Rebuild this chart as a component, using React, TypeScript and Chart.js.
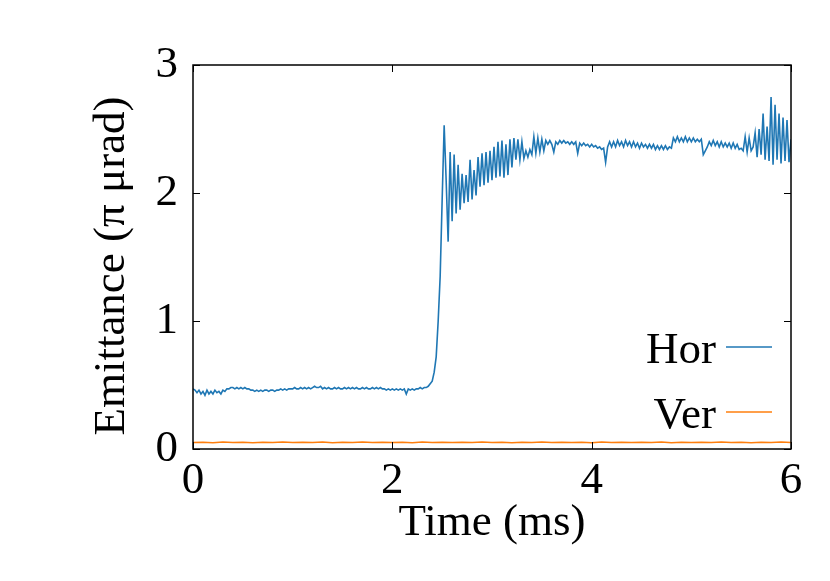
import { useEffect, useRef } from "react";
import { Chart, registerables } from "chart.js";

Chart.register(...registerables);

// ---- data ----
const xTickValues = [0, 2, 4, 6];
const yTickValues = [0, 1, 2, 3];
const xTitle = "Time (ms)";
const yTitle = "Emittance (\u03C0 \u03BCrad)";
const seriesNames = ["Hor", "Ver"];
const seriesColors = ["#1f77b4", "#ff7f0e"];

// Hor: sampled every 0.02 ms from 0 to 6 ms
const horStartMs = 0;
const horStepMs = 0.02;
const horValues = [
  0.47, 0.46, 0.44, 0.46, 0.43, 0.45, 0.42, 0.46, 0.43, 0.45,
  0.43, 0.46, 0.44, 0.45, 0.43, 0.46, 0.45, 0.47, 0.47, 0.48,
  0.48, 0.47, 0.48, 0.47, 0.48, 0.47, 0.48, 0.47, 0.47, 0.46,
  0.46, 0.45, 0.46, 0.45, 0.46, 0.45, 0.46, 0.46, 0.45, 0.46,
  0.46, 0.45, 0.46, 0.46, 0.47, 0.46, 0.47, 0.46, 0.47, 0.47,
  0.47, 0.48, 0.47, 0.47, 0.48, 0.47, 0.48, 0.47, 0.48, 0.47,
  0.48, 0.49, 0.48, 0.48, 0.49, 0.47, 0.48, 0.47, 0.48, 0.47,
  0.47, 0.48, 0.47, 0.48, 0.47, 0.47, 0.48, 0.47, 0.48, 0.47,
  0.48, 0.47, 0.48, 0.47, 0.47, 0.48, 0.47, 0.48, 0.47, 0.47,
  0.48, 0.47, 0.48, 0.47, 0.48, 0.47, 0.47, 0.46, 0.47, 0.46,
  0.47, 0.46, 0.47, 0.46, 0.47, 0.46, 0.47, 0.43, 0.47, 0.46,
  0.47, 0.46, 0.47, 0.47, 0.48, 0.47, 0.48, 0.48, 0.49, 0.51,
  0.53, 0.60, 0.72, 1.00, 1.35, 1.95, 2.53, 2.10, 1.62, 2.32,
  1.78, 2.30, 1.84, 2.22, 1.87, 2.15, 1.92, 2.14, 1.93, 2.26,
  1.95, 2.18, 1.98, 2.28, 2.05, 2.31, 2.06, 2.32, 2.08, 2.33,
  2.10, 2.36, 2.12, 2.40, 2.13, 2.41, 2.12, 2.38, 2.14, 2.42,
  2.20, 2.43, 2.26, 2.42, 2.26, 2.40, 2.27, 2.33, 2.28, 2.34,
  2.30, 2.44, 2.31, 2.43, 2.32, 2.42, 2.33, 2.41, 2.38, 2.41,
  2.38, 2.32, 2.40, 2.38, 2.41, 2.39, 2.41, 2.39, 2.40, 2.38,
  2.40, 2.38, 2.40, 2.31, 2.39, 2.37, 2.39, 2.37, 2.38, 2.36,
  2.38, 2.36, 2.37, 2.35, 2.36, 2.34, 2.35, 2.24, 2.36, 2.40,
  2.36, 2.40, 2.36, 2.41, 2.37, 2.40, 2.36, 2.41, 2.37, 2.40,
  2.36, 2.40, 2.36, 2.39, 2.35, 2.39, 2.36, 2.38, 2.35, 2.38,
  2.35, 2.38, 2.34, 2.37, 2.34, 2.37, 2.34, 2.37, 2.34, 2.36,
  2.35, 2.43, 2.40, 2.44, 2.40, 2.43, 2.40, 2.44, 2.40, 2.43,
  2.40, 2.43, 2.40, 2.42, 2.40, 2.42, 2.30, 2.33, 2.36, 2.40,
  2.37, 2.41, 2.37, 2.40, 2.36, 2.40, 2.36, 2.39, 2.36, 2.39,
  2.35, 2.39, 2.35, 2.38, 2.34, 2.35, 2.33, 2.44, 2.32, 2.43,
  2.33, 2.36, 2.47, 2.28, 2.50, 2.30, 2.62, 2.26, 2.52, 2.25,
  2.75, 2.22, 2.69, 2.26, 2.62, 2.23, 2.59, 2.25, 2.57, 2.24,
  2.42,
];

// Ver: sampled every 0.1 ms from 0 to 6 ms
const verStartMs = 0;
const verStepMs = 0.1;
const verValues = [
  0.050, 0.053, 0.049, 0.054, 0.050, 0.052, 0.049, 0.053, 0.050, 0.054,
  0.051, 0.053, 0.050, 0.054, 0.049, 0.052, 0.050, 0.054, 0.051, 0.053,
  0.050, 0.052, 0.049, 0.054, 0.050, 0.053, 0.051, 0.052, 0.050, 0.054,
  0.050, 0.053, 0.049, 0.052, 0.051, 0.054, 0.050, 0.053, 0.050, 0.052,
  0.049, 0.054, 0.050, 0.053, 0.051, 0.052, 0.050, 0.054, 0.049, 0.053,
  0.050, 0.052, 0.051, 0.054, 0.050, 0.053, 0.049, 0.052, 0.050, 0.054,
  0.051,
];

const FONT_FAMILY = '"Liberation Serif", "Times New Roman", serif';
const FONT_SIZE = 45;

function toPoints(start: number, step: number, values: number[]) {
  return values.map((v, i) => ({ x: +(start + i * step).toFixed(3), y: v }));
}

const framePlugin = {
  id: "gnuplotFrame",
  afterDatasetsDraw(chart: any) {
    const { ctx, chartArea } = chart;
    const xs = chart.scales.x;
    const ys = chart.scales.y;
    const { left, right, top, bottom } = chartArea;
    ctx.save();
    // frame
    ctx.strokeStyle = "#000";
    ctx.lineWidth = 1.5;
    ctx.strokeRect(left, top, right - left, bottom - top);
    // inward ticks (mirrored)
    const tl = 7;
    ctx.lineWidth = 1;
    ctx.beginPath();
    xTickValues.forEach((v) => {
      const px = Math.round(xs.getPixelForValue(v)) + 0.5;
      ctx.moveTo(px, bottom);
      ctx.lineTo(px, bottom - tl);
      ctx.moveTo(px, top);
      ctx.lineTo(px, top + tl);
    });
    yTickValues.forEach((v) => {
      const py = Math.round(ys.getPixelForValue(v)) + 0.5;
      ctx.moveTo(left, py);
      ctx.lineTo(left + tl, py);
      ctx.moveTo(right, py);
      ctx.lineTo(right - tl, py);
    });
    ctx.stroke();

    // titles
    ctx.fillStyle = "#000";
    ctx.font = `${FONT_SIZE}px ${FONT_FAMILY}`;
    ctx.textAlign = "center";
    ctx.textBaseline = "alphabetic";
    ctx.fillText(xTitle, (left + right) / 2, bottom + 86);
    ctx.save();
    ctx.translate(left - 69, (top + bottom) / 2 + 9);
    ctx.rotate(-Math.PI / 2);
    ctx.fillText(yTitle, 0, 0);
    ctx.restore();

    // legend
    const keyTextX = right - 75;
    const keyLineX0 = right - 65;
    const keyLineX1 = right - 19;
    const keyRows = [bottom - 86, bottom - 21];
    seriesNames.forEach((name, i) => {
      ctx.textAlign = "right";
      ctx.fillStyle = "#000";
      ctx.fillText(name, keyTextX, keyRows[i]);
      ctx.strokeStyle = seriesColors[i];
      ctx.lineWidth = 1.3;
      ctx.beginPath();
      ctx.moveTo(keyLineX0, keyRows[i] - 16);
      ctx.lineTo(keyLineX1, keyRows[i] - 16);
      ctx.stroke();
    });
    ctx.restore();
  },
};

export default function App() {
  const canvasRef = useRef<HTMLCanvasElement | null>(null);

  useEffect(() => {
    if (!canvasRef.current) return;
    const chart = new Chart(canvasRef.current, {
      type: "line",
      data: {
        datasets: [
          {
            label: seriesNames[0],
            data: toPoints(horStartMs, horStepMs, horValues),
            borderColor: seriesColors[0],
            borderWidth: 1.6,
            pointRadius: 0,
            tension: 0,
            fill: false,
          },
          {
            label: seriesNames[1],
            data: toPoints(verStartMs, verStepMs, verValues),
            borderColor: seriesColors[1],
            borderWidth: 1.5,
            pointRadius: 0,
            tension: 0,
            fill: false,
          },
        ],
      },
      options: {
        animation: false,
        responsive: true,
        maintainAspectRatio: false,
        layout: { padding: { left: 0, right: 39, top: 65, bottom: 0 } },
        plugins: {
          legend: { display: false },
          tooltip: { enabled: false },
          title: { display: false },
        },
        scales: {
          x: {
            type: "linear",
            min: 0,
            max: 6,
            grid: { display: false },
            border: { display: false },
            ticks: {
              color: "#000",
              font: { family: FONT_FAMILY, size: FONT_SIZE },
              padding: -3,
              maxRotation: 0,
            },
            afterBuildTicks: (s: any) => {
              s.ticks = xTickValues.map((v) => ({ value: v }));
            },
            afterFit: (s: any) => {
              s.height = 132;
            },
          },
          y: {
            type: "linear",
            min: 0,
            max: 3,
            grid: { display: false },
            border: { display: false },
            ticks: {
              color: "#000",
              font: { family: FONT_FAMILY, size: FONT_SIZE },
              padding: 7,
            },
            afterBuildTicks: (s: any) => {
              s.ticks = yTickValues.map((v) => ({ value: v }));
            },
            afterFit: (s: any) => {
              s.width = 193;
            },
          },
        },
      },
      plugins: [framePlugin],
    });
    return () => chart.destroy();
  }, []);

  return (
    <div style={{ position: "absolute", left: 0, top: 0, width: 830, height: 581, background: "#fff" }}>
      <canvas ref={canvasRef} />
    </div>
  );
}
